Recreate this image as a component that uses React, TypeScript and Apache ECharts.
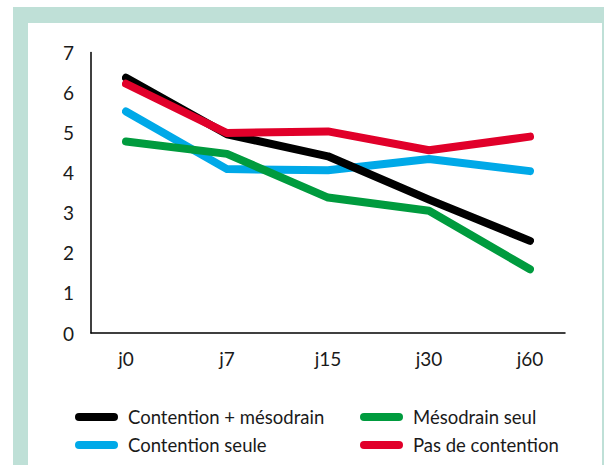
import React, { useEffect, useRef } from "react";
import * as echarts from "echarts";

const categories = ["j0", "j7", "j15", "j30", "j60"];
const yTicks = [0, 7, 1]; // min, max, interval

const contentionMesodrain = [6.37, 4.96, 4.41, 3.33, 2.3];
const contentionSeule = [5.53, 4.09, 4.06, 4.34, 4.04];
const mesodrainSeul = [4.78, 4.47, 3.38, 3.05, 1.59];
const pasDeContention = [6.22, 4.99, 5.03, 4.56, 4.9];

const seriesNames = [
  "Contention + mésodrain",
  "Contention seule",
  "Mésodrain seul",
  "Pas de contention",
];

const COLORS = {
  black: "#000000",
  blue: "#00a9e8",
  green: "#009b3e",
  red: "#e1002a",
  mint: "#bfe0d7",
  text: "#1a1a1a",
};

const FONT = 'Lato, "Noto Sans", sans-serif';
const PILL = "path://M4,0 L39,0 A4,4 0 0 1 39,8 L4,8 A4,4 0 0 1 4,0 Z";

export default function App() {
  const ref = useRef<HTMLDivElement>(null);
  useEffect(() => {
    if (!ref.current) return;
    const chart = echarts.init(ref.current, null, { renderer: "svg" });
    const lineSeries = (name: string, data: number[], color: string) => ({
      name,
      type: "line",
      xAxisIndex: 1,
      yAxisIndex: 1,
      data,
      symbol: "none",
      lineStyle: { color, width: 8, cap: "round", join: "round" },
      itemStyle: { color },
    });
    const legendBase = {
      orient: "vertical",
      itemWidth: 43,
      itemHeight: 8,
      itemGap: 8,
      icon: PILL,
      textStyle: {
        fontFamily: FONT,
        fontSize: 18.5,
        color: COLORS.text,
        lineHeight: 20,
        padding: [0, 0, 0, 5],
      },
      selectedMode: false,
    };
    chart.setOption({
      animation: false,
      graphic: [
        {
          type: "rect",
          z: -10,
          shape: { x: 13, y: 7, width: 591, height: 470 },
          style: { fill: COLORS.mint },
        },
        {
          type: "rect",
          z: -9,
          shape: { x: 28, y: 23, width: 574, height: 460 },
          style: { fill: "#ffffff" },
        },
      ],
      grid: [
        { left: 91, right: 39, top: 52.5, bottom: 132 },
        { left: 126, right: 74, top: 52.5, bottom: 132 },
      ],
      xAxis: [
        {
          gridIndex: 0,
          type: "value",
          min: 0,
          max: 1,
          axisLine: { show: true, lineStyle: { color: COLORS.black, width: 1.5 } },
          axisTick: { show: false },
          axisLabel: { show: false },
          splitLine: { show: false },
        },
        {
          gridIndex: 1,
          type: "category",
          boundaryGap: false,
          data: categories,
          axisLine: { show: false },
          axisTick: { show: false },
          splitLine: { show: false },
          axisLabel: {
            fontFamily: FONT,
            fontSize: 19,
            color: COLORS.text,
            margin: 16,
          },
        },
      ],
      yAxis: [
        {
          gridIndex: 0,
          type: "value",
          min: yTicks[0],
          max: yTicks[1],
          interval: yTicks[2],
          axisLine: { show: true, lineStyle: { color: COLORS.black, width: 1.5 } },
          axisTick: { show: false },
          splitLine: { show: false },
          axisLabel: {
            fontFamily: FONT,
            fontSize: 19,
            color: COLORS.text,
            margin: 17,
          },
        },
        {
          gridIndex: 1,
          type: "value",
          min: yTicks[0],
          max: yTicks[1],
          interval: yTicks[2],
          show: false,
          splitLine: { show: false },
        },
      ],
      legend: [
        { ...legendBase, left: 70, top: 402, data: [seriesNames[0], seriesNames[1]] },
        { ...legendBase, left: 355, top: 402, data: [seriesNames[2], seriesNames[3]] },
      ],
      series: [
        lineSeries(seriesNames[1], contentionSeule, COLORS.blue),
        lineSeries(seriesNames[0], contentionMesodrain, COLORS.black),
        lineSeries(seriesNames[2], mesodrainSeul, COLORS.green),
        lineSeries(seriesNames[3], pasDeContention, COLORS.red),
      ],
    });
    return () => chart.dispose();
  }, []);
  return (
    <div
      ref={ref}
      style={{ position: "absolute", left: 0, top: 0, width: 604, height: 465 }}
    />
  );
}
